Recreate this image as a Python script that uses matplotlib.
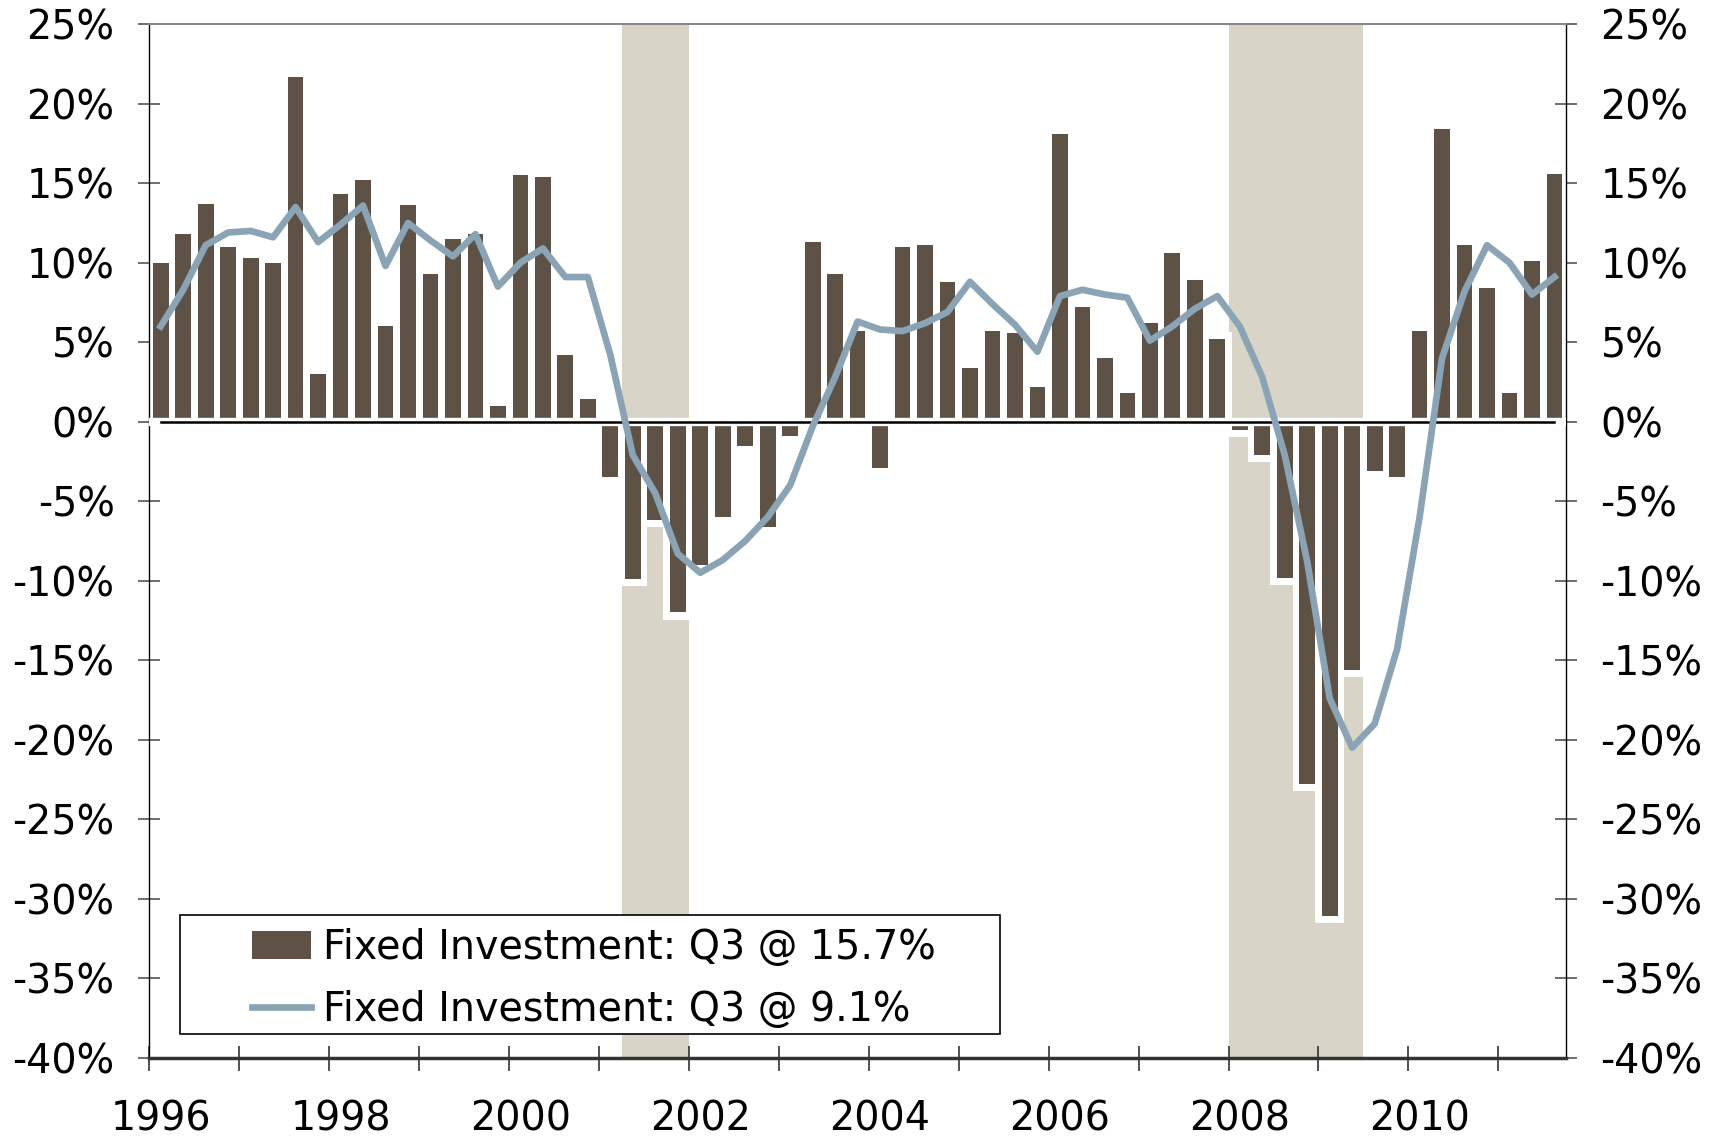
import matplotlib.pyplot as plt
import matplotlib.patches as mpatches
import numpy as np
import pandas as pd

# Quarterly categories, 1996Q1 .. 2011Q3
quarters = pd.period_range("1996Q1", "2011Q3", freq="Q")

# Bars: quarterly (annualized) change, %
bar_vals = [10.0, 11.8, 13.7, 11.0,
            10.3, 10.0, 21.7, 3.0,
            14.3, 15.2, 6.0, 13.6,
            9.3, 11.5, 11.8, 1.0,
            15.5, 15.4, 4.2, 1.4,
            -3.5, -9.9, -6.2, -12.0,
            -9.0, -6.0, -1.5, -6.6,
            -0.9, 11.3, 9.3, 5.7,
            -2.9, 11.0, 11.1, 8.8,
            3.4, 5.7, 5.6, 2.2,
            18.1, 7.2, 4.0, 1.8,
            6.2, 10.6, 8.9, 5.2,
            -0.5, -2.1, -9.8, -22.8,
            -31.1, -15.6, -3.1, -3.5,
            5.7, 18.4, 11.1, 8.4,
            1.8, 10.1, 15.6]

# Line: year-over-year change, %
line_vals = [6.0, 8.3, 11.1, 11.9,
             12.0, 11.6, 13.5, 11.3,
             12.4, 13.6, 9.8, 12.5,
             11.4, 10.4, 11.8, 8.5,
             10.0, 10.9, 9.1, 9.1,
             4.2, -2.1, -4.5, -8.3,
             -9.5, -8.7, -7.5, -6.0,
             -4.0, -0.3, 2.8, 6.3,
             5.8, 5.7, 6.2, 6.9,
             8.8, 7.4, 6.1, 4.4,
             7.9, 8.3, 8.0, 7.8,
             5.1, 6.0, 7.1, 7.9,
             6.0, 2.8, -2.1, -8.8,
             -17.4, -20.5, -19.0, -14.3,
             -6.0, 4.0, 8.2, 11.1,
             10.0, 8.0, 9.1]

# Recession shading (first and last quarter)
recessions = [("2001Q2", "2001Q4"), ("2008Q1", "2009Q2")]

year_labels = ["1996", "1998", "2000", "2002", "2004", "2006", "2008", "2010"]
y_ticks = list(range(-40, 30, 5))

bar_label = "Fixed Investment: Q3 @ 15.7%"
line_label = "Fixed Investment: Q3 @ 9.1%"

bar_color = "#5E5246"
line_color = "#8AA4B5"
shade_color = "#D8D4C8"
fs = 28.5

fig = plt.figure(figsize=(17.24, 11.38), dpi=100)
ax = fig.add_axes([0.0867, 0.0706, 0.8215, 0.9081])

x = np.arange(len(quarters))
qlist = list(quarters)

# recession bars
for start, end in recessions:
    i0 = qlist.index(pd.Period(start, freq="Q"))
    i1 = qlist.index(pd.Period(end, freq="Q"))
    ax.axvspan(i0 - 0.5, i1 + 0.5, color=shade_color, lw=0, zorder=1)

# white halo under the bars, then the bars
bar_w = 0.70
halo = [v + np.sign(v) * 0.45 for v in bar_vals]
ax.bar(x, halo, width=bar_w + 0.6, color="white", lw=0, zorder=2)
bars = ax.bar(x, bar_vals, width=bar_w, color=bar_color, lw=0, zorder=3, label=bar_label)

# zero line
ax.axhline(0, color="white", lw=6, zorder=3.5)
ax.plot([x[0], x[-1]], [0, 0], color="black", lw=1.8, zorder=4)

line, = ax.plot(x, line_vals, color=line_color, lw=4.8, zorder=5, label=line_label)

ax.set_xlim(-0.5, len(x) - 0.5)
ax.set_ylim(-40, 25)

# y axis both sides
ax.set_yticks(y_ticks)
ax.set_yticklabels([f"{v}%" for v in y_ticks])
ax.tick_params(axis="y", left=True, right=True, labelleft=True, labelright=True,
               direction="inout", length=16, width=1.2, color="#555555",
               labelsize=fs, pad=17)

# x axis: ticks at year boundaries, labels every other year
ax.set_xticks(np.arange(-0.5, len(x) - 1, 4))
ax.set_xticklabels([])
ax.set_xticks(np.arange(0, 8 * len(year_labels), 8), minor=True)
ax.set_xticklabels(year_labels, minor=True)
ax.tick_params(axis="x", which="major", direction="inout", length=18,
               width=1.2, color="#333333")
ax.tick_params(axis="x", which="minor", length=0, labelsize=fs, pad=30)

ax.spines["top"].set_color("#888888")
ax.spines["top"].set_linewidth(1.5)
ax.spines["left"].set_linewidth(1.0)
ax.spines["right"].set_linewidth(1.0)
ax.spines["bottom"].set_color("#333333")
ax.spines["bottom"].set_linewidth(2.5)

# legend box drawn by hand so it sits over the shading
box = mpatches.Rectangle((0.0215, 0.0229), 0.579, 0.1151, transform=ax.transAxes,
                         facecolor="white", edgecolor="black", lw=1.2,
                         zorder=10, clip_on=False)
ax.add_patch(box)
leg = ax.legend([bars, line], [bar_label, line_label],
                loc="center left", bbox_to_anchor=(0.0724, 0.0229 + 0.1151 / 2 - 0.004),
                frameon=False, fontsize=fs, borderpad=0, borderaxespad=0,
                handlelength=1.5, handletextpad=0.3, labelspacing=0.55)
leg.set_zorder(11)

fig.savefig("out.png", dpi=100)
